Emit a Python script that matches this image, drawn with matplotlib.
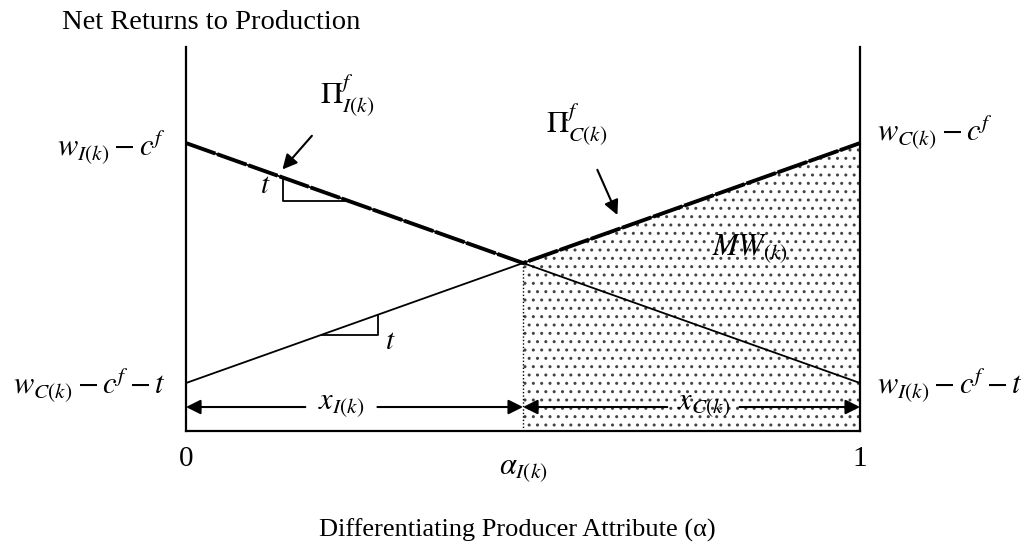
import matplotlib
matplotlib.use('Agg')
import matplotlib.pyplot as plt
import numpy as np

plt.rcParams['font.family'] = ['Liberation Serif', 'DejaVu Serif']
plt.rcParams['mathtext.fontset'] = 'stix'
plt.rcParams['hatch.color'] = '#444444'

# alpha runs from 0 to 1, the two net return lines cross at alpha_I(k)
alpha = [0.0, 1.0]
pi_I = [6.0, 1.0]      # w_I(k) - c^f  ->  w_I(k) - c^f - t
pi_C = [1.0, 6.0]      # w_C(k) - c^f - t  ->  w_C(k) - c^f
alpha_star = 0.5
y_top = 8.0
arrow_y = 0.5

fig = plt.figure(figsize=(10.3, 5.54), dpi=100)
ax = fig.add_axes([0.1806, 0.222, 0.6544, 0.693])
ax.set_xlim(0, 1)
ax.set_ylim(0, y_top)
for side in ['left', 'right', 'bottom']:
    ax.spines[side].set_linewidth(1.6)
ax.spines['top'].set_visible(False)
ax.set_xticks([])
ax.set_yticks([])

def line_at(x, ys):
    return np.interp(x, alpha, ys)

cross_y = line_at(alpha_star, pi_I)

# stippled area under the C line to the right of alpha_I(k)
ax.fill_between([alpha_star, 1.0], [0, 0], [cross_y, pi_C[1]],
                facecolor='none', edgecolor='#444444', hatch='..', linewidth=0)
ax.plot([alpha_star, alpha_star], [0, cross_y], color='black', lw=1.0, ls=(0, (1, 1.5)))

# the two return lines
ax.plot(alpha, pi_I, color='black', lw=1.3)
ax.plot(alpha, pi_C, color='black', lw=1.3)

# upper envelope drawn heavy and dashed
env_x = [0.0, alpha_star, 1.0]
env_y = [pi_I[0], cross_y, pi_C[1]]
ax.plot(env_x, env_y, color='black', lw=2.8, ls=(0, (8, 0.5)))

# slope triangles
def slope_triangle(x0, x1, ys, down):
    y0, y1 = line_at(x0, ys), line_at(x1, ys)
    if down:
        ax.plot([x0, x0, x1], [y0, y1, y1], color='black', lw=1.3)
    else:
        ax.plot([x0, x1, x1], [y0, y0, y1], color='black', lw=1.3)

slope_triangle(0.144, 0.24, pi_I, True)
slope_triangle(0.202, 0.285, pi_C, False)
ax.text(0.117, 5.1, '$t$', fontsize=21, ha='center', va='center')
ax.text(0.303, 1.85, '$t$', fontsize=21, ha='center', va='center')

# width arrows along the bottom
aprops = dict(arrowstyle='-|>', color='black', lw=1.5, mutation_scale=22, shrinkA=0, shrinkB=0)
for lo, hi, gap_lo, gap_hi, lab in [(0.0, alpha_star, 0.177, 0.284, '$x_{I(k)}$'),
                                    (alpha_star, 1.0, 0.714, 0.821, '$x_{C(k)}$')]:
    ax.annotate('', xy=(lo, arrow_y), xytext=(gap_lo, arrow_y), arrowprops=aprops)
    ax.annotate('', xy=(hi, arrow_y), xytext=(gap_hi, arrow_y), arrowprops=aprops)
    ax.text((gap_lo + gap_hi) / 2, arrow_y + 0.05, lab, fontsize=22, ha='center', va='center')

# profit labels with pointers
ax.annotate(r'$\Pi^f_{I(k)}$', xy=(0.143, 5.45), xytext=(0.239, 6.99), fontsize=22,
            ha='center', va='center',
            arrowprops=dict(arrowstyle='-|>', color='black', lw=1.5, mutation_scale=22,
                            shrinkA=14, shrinkB=0))
ax.annotate(r'$\Pi^f_{C(k)}$', xy=(0.64, 4.5), xytext=(0.58, 6.4), fontsize=22,
            ha='center', va='center',
            arrowprops=dict(arrowstyle='-|>', color='black', lw=1.5, mutation_scale=22,
                            shrinkA=16, shrinkB=0))
ax.text(0.837, 3.8, '$MW_{(k)}$', fontsize=22, ha='center', va='center')

# end-point labels
ax.text(-0.03, pi_I[0] - 0.08, r'$w_{I(k)} - c^f$', fontsize=22, ha='right', va='center', clip_on=False)
ax.text(-0.03, pi_C[0] - 0.05, r'$w_{C(k)} - c^f - t$', fontsize=22, ha='right', va='center', clip_on=False)
ax.text(1.025, pi_C[1] + 0.22, r'$w_{C(k)} - c^f$', fontsize=22, ha='left', va='center', clip_on=False)
ax.text(1.025, pi_I[1] - 0.05, r'$w_{I(k)} - c^f - t$', fontsize=22, ha='left', va='center', clip_on=False)

# axis end labels
ax.text(0.0, -0.58, '0', fontsize=21, ha='center', va='center', clip_on=False)
ax.text(1.0, -0.58, '1', fontsize=21, ha='center', va='center', clip_on=False)
ax.text(alpha_star, -0.8, r'$\alpha_{I(k)}$', fontsize=22, ha='center', va='center', clip_on=False)

fig.text(0.06, 0.96, 'Net Returns to Production', fontsize=20.5, ha='left', va='center')
fig.text(0.502, 0.043, 'Differentiating Producer Attribute (\u03b1)', fontsize=19,
         ha='center', va='center')

fig.savefig('out.png', dpi=100)
